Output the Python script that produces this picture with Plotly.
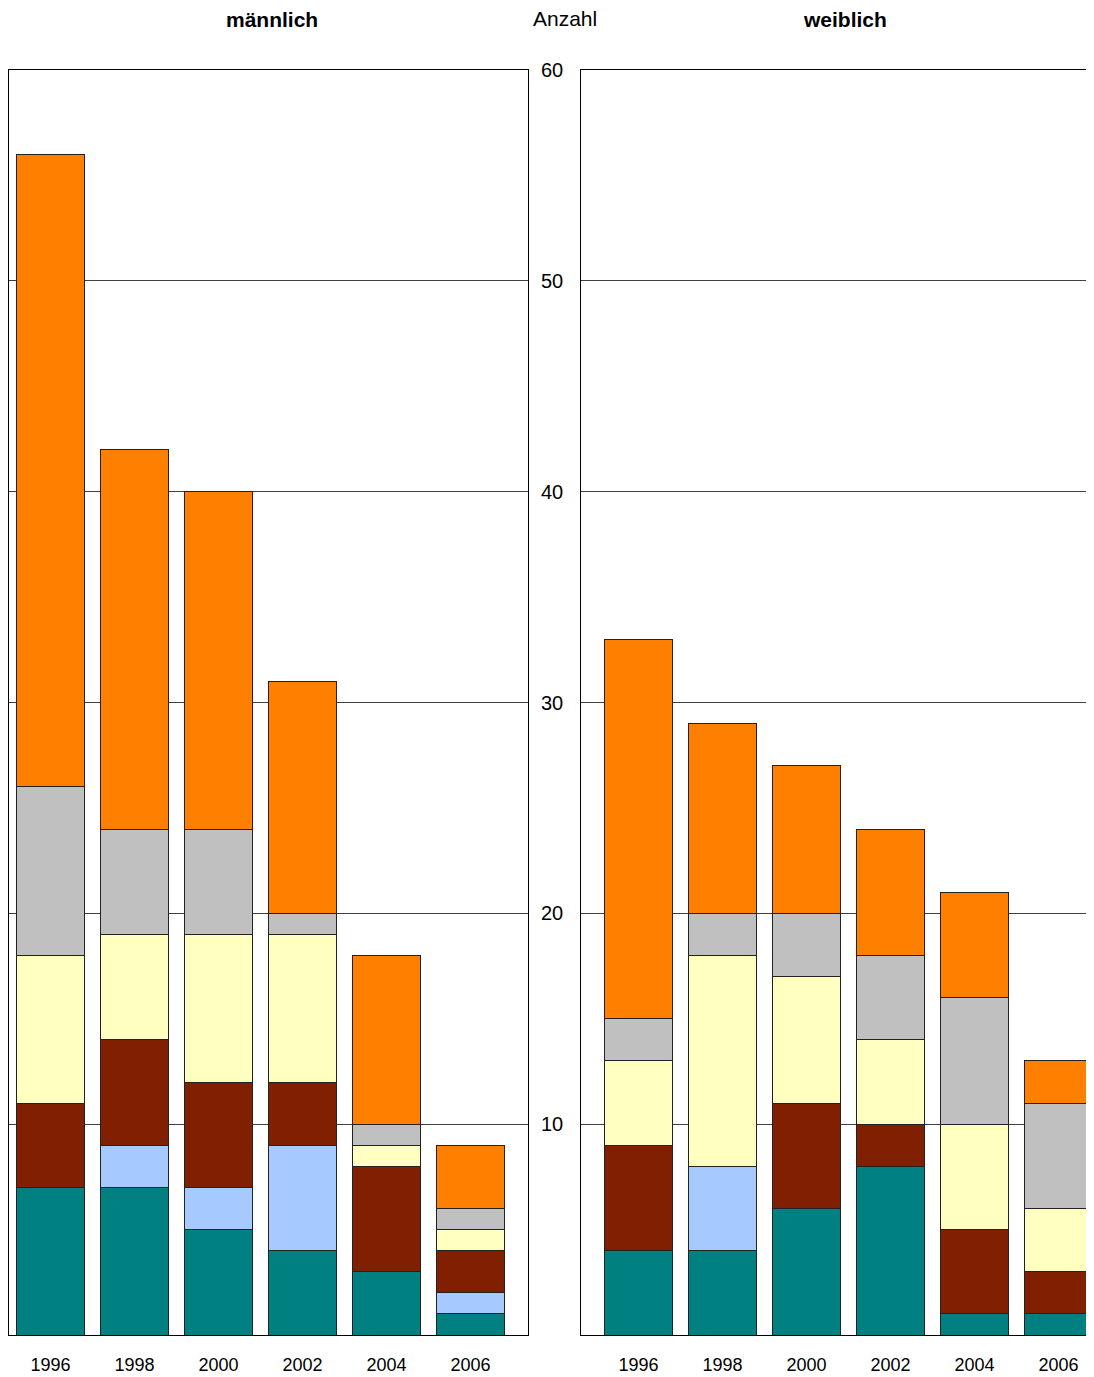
import plotly.graph_objects as go

years = ["1996", "1998", "2000", "2002", "2004", "2006"]
series_names = ["A", "B", "C", "D", "E", "F"]
colors = ["#008080", "#A6CAFF", "#802000", "#FFFFC0", "#C0C0C0", "#FF8000"]

# männlich (stack from bottom)
m_teal = [7, 7, 5, 4, 3, 1]
m_blue = [0, 2, 2, 5, 0, 1]
m_red = [4, 5, 5, 3, 5, 2]
m_yellow = [7, 5, 7, 7, 1, 1]
m_gray = [8, 5, 5, 1, 1, 1]
m_orange = [30, 18, 16, 11, 8, 3]

# weiblich
w_teal = [4, 4, 6, 8, 1, 1]
w_blue = [0, 4, 0, 0, 0, 0]
w_red = [5, 0, 5, 2, 4, 2]
w_yellow = [4, 10, 6, 4, 5, 3]
w_gray = [2, 2, 3, 4, 6, 5]
w_orange = [18, 9, 7, 6, 5, 2]

male = [m_teal, m_blue, m_red, m_yellow, m_gray, m_orange]
female = [w_teal, w_blue, w_red, w_yellow, w_gray, w_orange]

fig = go.Figure()
for name, col, vals in zip(series_names, colors, male):
    fig.add_trace(go.Bar(x=years, y=[v if v else None for v in vals], name=name,
                         marker=dict(color=col, line=dict(color="#222222", width=1)),
                         width=0.8, xaxis="x", yaxis="y", showlegend=False))
for name, col, vals in zip(series_names, colors, female):
    fig.add_trace(go.Bar(x=years, y=[v if v else None for v in vals], name=name,
                         marker=dict(color=col, line=dict(color="#222222", width=1)),
                         width=0.8, xaxis="x2", yaxis="y2", showlegend=False))

# page offset of 8px (body margin)
OFF = 8
W, H = 1094 - OFF, 1377 - OFF
top_px, bot_px = 70 - OFF, 1335 - OFF
ml = 1
pw = W - ml
d1 = (528 - OFF - ml) / pw
d2 = (581 - OFF - ml) / pw

fig.update_layout(
    width=W, height=H,
    barmode="stack",
    plot_bgcolor="white", paper_bgcolor="white",
    margin=dict(l=ml, r=0, t=top_px, b=H - bot_px, autoexpand=False),
    font=dict(family="Liberation Sans, Arial, sans-serif", size=18, color="#000"),
    xaxis=dict(domain=[0, d1], range=[-0.506 + 1 / 84, 5.685], type="category",
               showline=True, linecolor="#000", linewidth=1, mirror=True,
               ticks="", tickfont=dict(size=18), ticklabelstandoff=13,
               showgrid=False, automargin=False),
    yaxis=dict(range=[0, 60], tickvals=[10, 20, 30, 40, 50, 60], side="right",
               showline=True, linecolor="#000", linewidth=1, mirror=True,
               showgrid=True, gridcolor="#404040", gridwidth=1, ticks="",
               ticklabelstandoff=8, tickfont=dict(size=20), zeroline=False,
               automargin=False),
    xaxis2=dict(domain=[d2, 1], range=[-0.6845, 5.423], type="category", anchor="y2",
                showline=True, linecolor="#000", linewidth=1, mirror=True,
                ticks="", tickfont=dict(size=18), ticklabelstandoff=13,
                showgrid=False, automargin=False),
    yaxis2=dict(range=[0, 60], tickvals=[10, 20, 30, 40, 50, 60], anchor="x2",
                showline=True, linecolor="#000", linewidth=1, mirror=False,
                showgrid=True, gridcolor="#404040", gridwidth=1, showticklabels=False,
                ticks="", zeroline=False, automargin=False),
)

ph = bot_px - top_px


def ann(text, px, py, size):
    return dict(text=text, x=(px - OFF - ml) / pw, y=(H - (py - OFF) - (H - bot_px)) / ph,
                xref="paper", yref="paper", xanchor="center", yanchor="middle",
                showarrow=False, font=dict(size=size))


fig.update_layout(annotations=[
    ann("<b>männlich</b>", 272, 19, 21),
    ann("<b>weiblich</b>", 845, 19, 21),
    ann("Anzahl", 565, 18, 21),
])

fig.write_html("out.html")
